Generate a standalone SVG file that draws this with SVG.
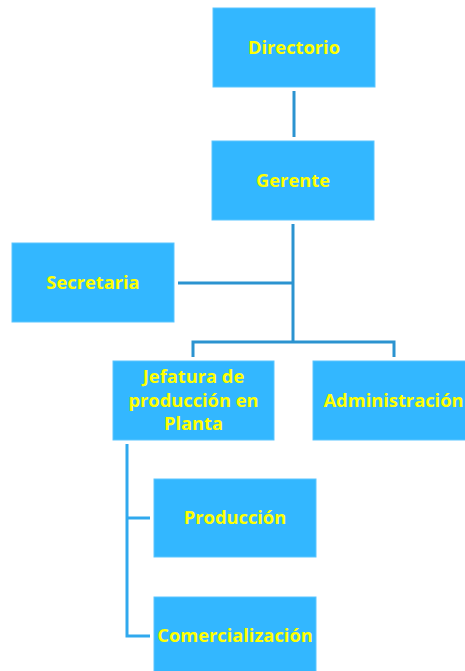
<svg xmlns="http://www.w3.org/2000/svg" width="465" height="671" viewBox="0 0 465 671">
<style>
.box{fill:#33B7FF;stroke:#5CC6FF;stroke-width:1}
.t{font-family:"Open Sans","Liberation Sans",sans-serif;font-weight:bold;font-size:18.3px;fill:#FFFF00;text-anchor:middle}
.c{fill:none;stroke:#2B93D0;stroke-width:3}
.c2{fill:none;stroke:#30A9EE;stroke-width:3}
</style>
<rect width="465" height="671" fill="#FFFFFF"/>
<g id="connectors">
<line class="c" x1="294" y1="91" x2="294" y2="137"/>
<line class="c" x1="293" y1="224" x2="293" y2="343"/>
<line class="c" x1="178" y1="283" x2="293" y2="283"/>
<polyline class="c" points="193,357 193,342 394,342 394,357"/>
<polyline class="c2" points="150,518 127,518 127,444 127,636 150,636"/>
</g>
<g id="directorio"><rect class="box" x="213" y="8" width="162" height="79"/><text class="t" x="294" y="54">Directorio</text></g>
<g id="gerente"><rect class="box" x="212" y="141" width="162" height="79"/><text class="t" x="293" y="187">Gerente</text></g>
<g id="secretaria"><rect class="box" x="12" y="243" width="162" height="79"/><text class="t" x="93" y="289">Secretaria</text></g>
<g id="jefatura"><rect class="box" x="113" y="361" width="161" height="79"/><text class="t" x="193.5" y="383">Jefatura de</text><text class="t" x="193.5" y="407">producción en</text><text class="t" x="193.5" y="430">Planta</text></g>
<g id="administracion"><rect class="box" x="313" y="361" width="160" height="79"/><text class="t" x="393.5" y="407">Administración</text></g>
<g id="produccion"><rect class="box" x="154" y="479" width="162" height="78"/><text class="t" x="235" y="524">Producción</text></g>
<g id="comercializacion"><rect class="box" x="154" y="597" width="162" height="80"/><text class="t" x="235" y="642">Comercialización</text></g>
</svg>
